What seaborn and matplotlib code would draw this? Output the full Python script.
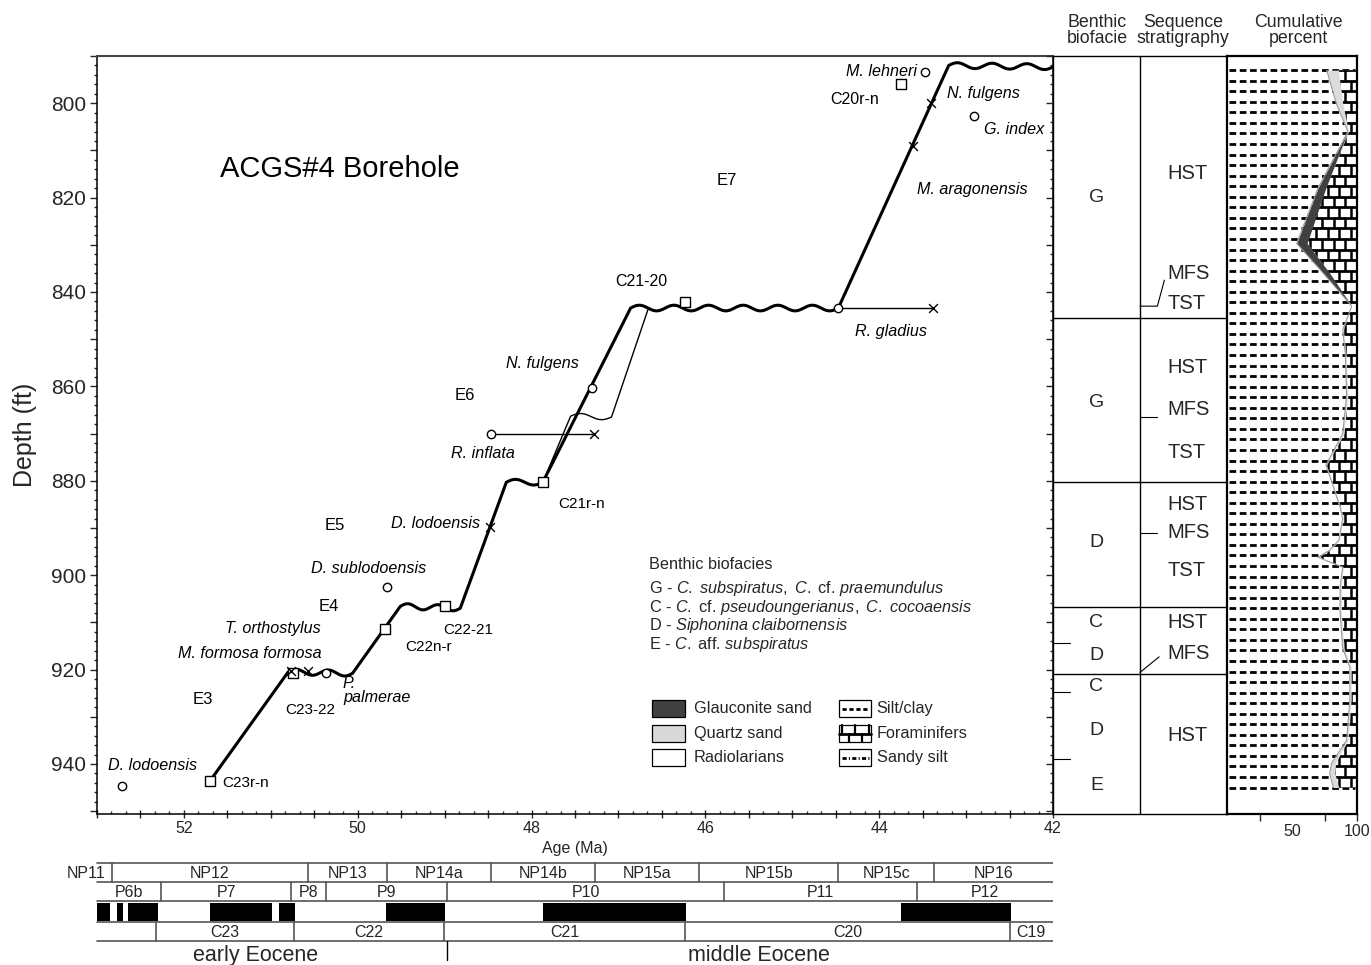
import matplotlib
matplotlib.use("Agg")
import numpy as np
import pandas as pd
import matplotlib.pyplot as plt
import seaborn as sns
from matplotlib.patches import Rectangle, Polygon
from matplotlib.collections import LineCollection
from matplotlib.ticker import MultipleLocator, FuncFormatter

# ---------------- data ----------------
# age model tie points (age Ma, depth ft); segment kind between consecutive points
tie_age = [51.70, 50.80, 50.06, 49.51, 48.82, 48.29, 47.87, 46.86, 44.47, 43.20, 42.00]
tie_depth = [943.6, 920.5, 920.8, 906.6, 907.0, 880.3, 880.3, 843.4, 843.4, 792.0, 792.3]
tie_kind = ["line", "hiatus", "line", "hiatus", "line", "hiatus", "line", "hiatus", "line", "hiatus"]

# alternative (thin) model through C21
alt_age = [47.87, 47.55, 47.08, 46.66]
alt_depth = [880.3, 866.3, 866.5, 843.7]
alt_kind = ["line", "hiatus", "line"]

# datum levels
circle_age = [52.71, 50.37, 49.66, 48.47, 47.31, 44.47, 43.47, 42.91]
circle_depth = [944.7, 920.8, 902.5, 870.1, 860.4, 843.4, 793.4, 802.8]
square_age = [51.70, 50.75, 49.69, 49.00, 47.87, 46.23, 43.75]
square_depth = [943.6, 920.8, 911.4, 906.6, 880.2, 842.2, 796.0]
cross_age = [50.77, 50.57, 48.48, 47.28, 43.38, 43.61, 43.40]
cross_depth = [920.3, 920.3, 889.8, 870.1, 843.4, 809.1, 800.0]

# species ranges (R. inflata, R. gladius)
range_start = [48.47, 44.47]
range_end = [47.28, 43.38]
range_depth = [870.1, 843.4]

# benthic biofacies / sequence stratigraphy
unit_bounds = [845.5, 880.3, 906.7, 921.0]
biofacie_labels = ["G", "G", "D", "C", "D", "C", "D", "E"]
biofacie_depths = [820.0, 863.5, 893.0, 910.0, 917.0, 923.5, 933.0, 944.5]
biofacie_ticks = [914.4, 924.8, 939.0]
seq_labels = ["HST", "MFS", "TST", "HST", "MFS", "TST", "HST", "MFS", "TST", "HST", "MFS", "HST"]
seq_depths = [815.0, 836.0, 842.5, 856.0, 865.0, 874.0, 885.0, 891.0, 899.0, 910.0, 916.7, 934.0]
mfs_ticks = [866.5, 891.0]

# cumulative percent (lithology)
cum_depth = [793.0, 800.0, 806.0, 818.0, 829.7, 836.0, 843.0, 848.0, 853.0, 862.0, 870.0,
             876.7, 879.0, 885.6, 888.0, 892.6, 894.7, 896.2, 898.3, 902.5, 908.0, 915.5,
             919.5, 926.5, 935.0, 939.8, 942.0, 945.0]
silt_clay = [76.7, 84.0, 93.0, 70.0, 53.6, 74.0, 96.0, 89.0, 91.0, 92.0, 89.0,
             76.0, 79.0, 87.0, 89.0, 86.0, 79.0, 70.0, 89.0, 87.0, 87.0, 89.0,
             94.5, 94.5, 92.0, 80.5, 79.0, 81.8]
glauconite = [0, 0, 0, 6, 8, 5, 0, 0, 0, 0, 0,
              0, 0, 0, 0, 0, 0, 0, 0, 0, 0, 0,
              0, 0, 0, 0, 0, 0]
quartz = [9, 5, 0.5, 0, 0, 0, 0, 0.5, 0.5, 1, 1,
          0.5, 0.5, 0.5, 0.5, 0.5, 0.5, 0.5, 0.5, 1, 1, 1,
          1, 1, 1, 3, 4, 4]

# time scale
np_zones = ["NP11", "NP12", "NP13", "NP14a", "NP14b", "NP15a", "NP15b", "NP15c", "NP16"]
np_bounds = [53.43, 52.83, 50.57, 49.66, 48.47, 47.27, 46.07, 44.47, 43.37, 42.0]
p_zones = ["P6b", "P7", "P8", "P9", "P10", "P11", "P12"]
p_bounds = [53.0, 52.26, 50.77, 50.37, 48.97, 45.78, 43.57, 42.0]
normal_start = [53.0, 52.77, 52.64, 51.70, 50.91, 49.67, 47.87, 43.75]
normal_end = [52.85, 52.70, 52.30, 50.99, 50.72, 49.00, 46.22, 42.48]
chrons = ["", "C23", "C22", "C21", "C20", "C19"]
chron_bounds = [53.0, 52.32, 50.73, 49.01, 46.23, 42.50, 42.0]
epochs = ["early Eocene", "middle Eocene"]
epoch_boundary = 48.97

# ---------------- style ----------------
sns.set_theme(style="ticks")
plt.rcParams["font.family"] = ["Liberation Sans", "DejaVu Sans"]
plt.rcParams["mathtext.fontset"] = "custom"
plt.rcParams["mathtext.rm"] = "Liberation Sans"
plt.rcParams["mathtext.it"] = "Liberation Sans:italic"
plt.rcParams["axes.edgecolor"] = "black"
plt.rcParams["axes.linewidth"] = 1.0

W, H = 1371, 965
fig = plt.figure(figsize=(W / 100, H / 100), dpi=100)


def px_axes(x0, y0, x1, y1):
    return fig.add_axes([x0 / W, 1 - y1 / H, (x1 - x0) / W, (y1 - y0) / H])


def wavy(a0, a1, d0, d1, amp=0.6, period=0.38):
    # unconformity symbol between two tie points
    span = abs(a1 - a0)
    cycles = max(1, round(span / period))
    t = np.linspace(0, 1, 40 * cycles)
    age = a0 + (a1 - a0) * t
    depth = d0 + (d1 - d0) * t - amp * np.sin(2 * np.pi * cycles * t)
    return age, depth


def model_path(ages, depths, kinds):
    xs, ys = [], []
    for i, kind in enumerate(kinds):
        if kind == "hiatus":
            a, d = wavy(ages[i], ages[i + 1], depths[i], depths[i + 1])
        else:
            a, d = np.array(ages[i:i + 2]), np.array(depths[i:i + 2])
        xs.append(a)
        ys.append(d)
    return pd.DataFrame({"age": np.concatenate(xs), "depth": np.concatenate(ys)})


YLIM = (950.6, 790.0)
XLIM = (53.0, 42.0)

# ---------------- main panel ----------------
ax = px_axes(97, 56, 1053, 814)

main = model_path(tie_age, tie_depth, tie_kind)
sns.lineplot(data=main, x="age", y="depth", sort=False, estimator=None,
             color="black", lw=2.2, ax=ax)
alt = model_path(alt_age, alt_depth, alt_kind)
sns.lineplot(data=alt, x="age", y="depth", sort=False, estimator=None,
             color="black", lw=1.0, ax=ax)

for a0, a1, d in zip(range_start, range_end, range_depth):
    ax.plot([a0, a1], [d, d], color="black", lw=1.0, zorder=2)

sns.scatterplot(x=circle_age, y=circle_depth, marker="o", s=36, color="black",
                facecolor="white", edgecolor="black", linewidth=1.0, ax=ax, zorder=4)
sns.scatterplot(x=square_age, y=square_depth, marker="s", s=44, color="black",
                facecolor="white", edgecolor="black", linewidth=1.0, ax=ax, zorder=4)
sns.scatterplot(x=cross_age, y=cross_depth, marker="x", s=40, color="black",
                linewidth=1.0, ax=ax, zorder=4)

ax.set_xlim(*XLIM)
ax.set_ylim(*YLIM)

sp = dict(fontsize=11.6, style="italic")
zn = dict(fontsize=12)
cn = dict(fontsize=11, family=["Liberation Sans Narrow", "Liberation Sans"])
labels = [
    ("ACGS#4 Borehole", 50.205, 814.0, dict(fontsize=21), "center"),
    ("E7", 45.75, 816.3, zn, "center"),
    ("C20r-n", 44.28, 799.2, dict(fontsize=11.5), "center"),
    ("M. lehneri", 43.57, 793.2, sp, "right"),
    ("N. fulgens", 43.22, 797.9, sp, "left"),
    ("G. index", 42.79, 805.5, sp, "left"),
    ("M. aragonensis", 43.57, 818.2, sp, "left"),
    ("C21-20", 46.74, 837.7, dict(fontsize=11.5), "center"),
    ("R. gladius", 43.86, 848.4, sp, "center"),
    ("N. fulgens", 47.87, 855.1, sp, "center"),
    ("E6", 48.77, 861.9, zn, "center"),
    ("R. inflata", 48.56, 874.2, sp, "center"),
    ("C21r-n", 47.43, 885.0, cn, "center"),
    ("E5", 50.26, 889.4, zn, "center"),
    ("D. lodoensis", 49.11, 889.0, sp, "center"),
    ("D. sublodoensis", 49.87, 898.5, sp, "center"),
    ("E4", 50.33, 906.6, zn, "center"),
    ("T. orthostylus", 50.98, 911.4, sp, "center"),
    ("C22-21", 48.73, 911.7, cn, "center"),
    ("C22n-r", 49.19, 915.3, cn, "center"),
    ("M. formosa formosa", 51.24, 916.7, sp, "center"),
    ("P.\npalmerae", 50.17, 924.4, dict(sp, linespacing=0.95), "left"),
    ("C23-22", 50.55, 928.6, cn, "center"),
    ("E3", 51.78, 926.3, zn, "center"),
    ("D. lodoensis", 52.36, 940.3, sp, "center"),
    ("C23r-n", 51.29, 944.1, cn, "center"),
]
for txt, a, d, kw, ha in labels:
    ax.text(a, d, txt, ha=ha, va="center", color="black", **kw)

# biofacies key
key_lines = [
    "Benthic biofacies",
    r"G - $\mathit{C.\ subspiratus,\ C.}$ cf. $\mathit{praemundulus}$",
    r"C - $\mathit{C.}$ cf. $\mathit{pseudoungerianus,\ C.\ cocoaensis}$",
    r"D - $\mathit{Siphonina\ claibornensis}$",
    r"E - $\mathit{C.}$ aff. $\mathit{subspiratus}$",
]
for txt, d in zip(key_lines, [897.7, 902.8, 906.8, 910.6, 914.6]):
    ax.text(46.645, d, txt, ha="left", va="center", fontsize=11.7)

# lithology legend
box_rows = [(926.5, 930.1), (931.8, 935.3), (936.9, 940.4)]
left_items = [("Glauconite sand", "#404040"), ("Quartz sand", "#d9d9d9"), ("Radiolarians", "white")]
for (d0, d1), (name, col) in zip(box_rows, left_items):
    ax.add_patch(Rectangle((46.61, d0), -0.38, d1 - d0, facecolor=col,
                           edgecolor="black", lw=0.9, zorder=3))
    ax.text(46.13, (d0 + d1) / 2, name, ha="left", va="center", fontsize=11.7)
right_items = ["Silt/clay", "Foraminifers", "Sandy silt"]
bx0, bx1 = 44.46, 44.09
for (d0, d1), name in zip(box_rows, right_items):
    ax.add_patch(Rectangle((bx0, d0), bx1 - bx0, d1 - d0, facecolor="white",
                           edgecolor="black", lw=0.9, zorder=3))
    dm = (d0 + d1) / 2
    if name == "Silt/clay":
        ax.plot([bx0 - 0.03, bx1 + 0.03], [dm, dm], color="black", lw=2,
                ls=(0, (1.5, 1.0)), zorder=4)
    elif name == "Foraminifers":
        ax.plot([bx0, bx1], [dm, dm], color="black", lw=2, zorder=4)
        for fx, top in [(0.08, True), (0.5, True), (0.92, True), (0.3, False), (0.72, False)]:
            xx = bx0 + (bx1 - bx0) * fx
            ax.plot([xx, xx], [d0, dm] if top else [dm, d1], color="black", lw=1.6, zorder=4)
    else:
        ax.plot([bx0 - 0.03, bx1 + 0.03], [dm, dm], color="black", lw=2,
                ls=(0, (1.5, 0.8, 0.4, 0.8)), zorder=4)
    ax.text(44.03, dm, name, ha="left", va="center", fontsize=11.7)

# axes ticks
ax.yaxis.set_major_locator(MultipleLocator(10))
ax.yaxis.set_minor_locator(MultipleLocator(2))
ax.yaxis.set_major_formatter(FuncFormatter(lambda v, p: f"{v:.0f}" if round(v) % 20 == 0 else ""))
ax.xaxis.set_major_locator(MultipleLocator(0.5))
ax.xaxis.set_minor_locator(MultipleLocator(0.5 / 3))
ax.xaxis.set_major_formatter(FuncFormatter(
    lambda v, p: f"{v:.0f}" if abs(v / 2 - round(v / 2)) < 1e-6 else ""))
ax.tick_params(axis="y", which="major", direction="out", length=5, width=1, labelsize=15, pad=3)
ax.tick_params(axis="y", which="minor", direction="out", length=2, width=1)
ax.tick_params(axis="x", which="major", direction="inout", length=6, width=1, labelsize=11.5, pad=2)
ax.tick_params(axis="x", which="minor", direction="in", length=2, width=1)
ax.set_xlabel("Age (Ma)", fontsize=11.5, labelpad=4)
ax.set_ylabel("Depth (ft)", fontsize=18, labelpad=10)
for s in ax.spines.values():
    s.set_linewidth(1.1)
    s.set_color("black")
ax.spines["top"].set_color("#444444")
ax.spines["top"].set_linewidth(1.5)

# ---------------- biofacies / sequence panel ----------------
ax_bs = px_axes(1053, 56, 1227, 814)
ax_bs.set_xlim(0, 2)
ax_bs.set_ylim(*YLIM)
ax_bs.axvline(1.0, color="black", lw=1.0)
for d in unit_bounds:
    ax_bs.plot([0, 2], [d, d], color="black", lw=1.0)
for lab, d in zip(biofacie_labels, biofacie_depths):
    ax_bs.text(0.5, d, lab, ha="center", va="center", fontsize=14)
for d in biofacie_ticks:
    ax_bs.plot([0, 0.2], [d, d], color="black", lw=0.8)
for lab, d in zip(seq_labels, seq_depths):
    ax_bs.text(1.32, d, lab, ha="left", va="center", fontsize=14.5)
for d in mfs_ticks:
    ax_bs.plot([1.0, 1.2], [d, d], color="black", lw=0.8)
ax_bs.plot([1.0, 1.2, 1.28], [843.0, 843.0, 837.5], color="black", lw=0.8)
ax_bs.plot([1.0, 1.22], [920.6, 917.3], color="black", lw=0.8)
ax_bs.set_xticks([])
ax_bs.yaxis.set_major_locator(MultipleLocator(10))
ax_bs.yaxis.set_minor_locator(MultipleLocator(2))
ax_bs.tick_params(axis="y", which="major", direction="out", length=5, width=1, labelleft=False)
ax_bs.tick_params(axis="y", which="minor", direction="out", length=2, width=1)
for s in ax_bs.spines.values():
    s.set_linewidth(1.0)
    s.set_color("black")

# ---------------- cumulative percent panel ----------------
ax_c = px_axes(1227, 56, 1357, 814)
ax_c.set_xlim(0, 100)
ax_c.set_ylim(*YLIM)
silt = np.array(silt_clay)
glauc = silt + np.array(glauconite)
qtz = glauc + np.array(quartz)
cd = np.array(cum_depth)

rows = np.linspace(cd[0], cd[-1], 69)
ax_c.add_collection(LineCollection([[(1.5, y), (98.5, y)] for y in rows], colors="black",
                                   linewidths=2.0, linestyles=[(0, (2.4, 1.3))], zorder=1))

foram_poly = Polygon(np.column_stack([np.concatenate([qtz, [100, 100]]),
                                      np.concatenate([cd, [cd[-1], cd[0]]])]),
                     closed=True, facecolor="white", edgecolor="none", zorder=2)
ax_c.add_patch(foram_poly)
brick_h = LineCollection([[(0, y), (100, y)] for y in rows], colors="black",
                         linewidths=2.0, zorder=3)
brick_segs = []
for k in range(len(rows) - 1):
    off = 0 if k % 2 == 0 else 4.5
    for xv in np.arange(100 - off, 30, -9):
        brick_segs.append([(xv, rows[k]), (xv, rows[k + 1])])
brick_v = LineCollection(brick_segs, colors="black", linewidths=1.8, zorder=3)
for lc in (brick_h, brick_v):
    ax_c.add_collection(lc)
    lc.set_clip_path(foram_poly)

ax_c.fill_betweenx(cd, silt, glauc, color="#404040", lw=0, zorder=4)
ax_c.fill_betweenx(cd, glauc, qtz, color="#dcdcdc", lw=0, zorder=4)
sns.lineplot(x=silt, y=cd, sort=False, estimator=None, color="#9a9a9a", lw=0.8, ax=ax_c, zorder=5)

ax_c.set_xticks([25, 50, 75, 100], ["", "50", "", "100"])
ax_c.xaxis.get_major_ticks()[1].tick1line.set_visible(False)
ax_c.tick_params(axis="x", direction="out", length=5, width=1, labelsize=11.5, pad=2)
ax_c.set_yticks([])
for s in ax_c.spines.values():
    s.set_linewidth(1.6)
    s.set_color("black")

# ---------------- column headers ----------------
for txt, x in [("Benthic\nbiofacie", 1097), ("Sequence\nstratigraphy", 1183),
               ("Cumulative\npercent", 1298)]:
    fig.text(x / W, 1 - 30.5 / H, txt, ha="center", va="center", fontsize=12.8, linespacing=0.95)

# ---------------- time scale ----------------
ax_t = px_axes(60, 845, 1053, 965)
ax_t.set_xlim(53.0 + 37 / 86.9, 42.0)
ax_t.set_ylim(965, 845)
ax_t.axis("off")
gray = "#555555"
for y in [863, 882, 901, 922, 941]:
    ax_t.plot([53.0, 42.0], [y, y], color=gray, lw=1.2)


def zone_row(names, bounds, y0, y1, fs=11.5):
    for b in bounds[1:-1]:
        ax_t.plot([b, b], [y0, y1], color=gray, lw=1.2)
    for name, a0, a1 in zip(names, bounds[:-1], bounds[1:]):
        ax_t.text((a0 + a1) / 2, (y0 + y1) / 2 + 0.5, name, ha="center", va="center", fontsize=fs)


zone_row(np_zones, np_bounds, 863, 882)
zone_row(p_zones, p_bounds, 882, 901)
zone_row(chrons, chron_bounds, 922, 941)
for a0, a1 in zip(normal_start, normal_end):
    ax_t.add_patch(Rectangle((a0, 902.5), a1 - a0, 18.5, facecolor="black", edgecolor="none"))
ax_t.plot([epoch_boundary, epoch_boundary], [941, 960], color="black", lw=1)
for name, a in zip(epochs, [51.17, 45.38]):
    ax_t.text(a, 955, name, ha="center", va="center", fontsize=15.5)

fig.savefig("out.png", dpi=100)
